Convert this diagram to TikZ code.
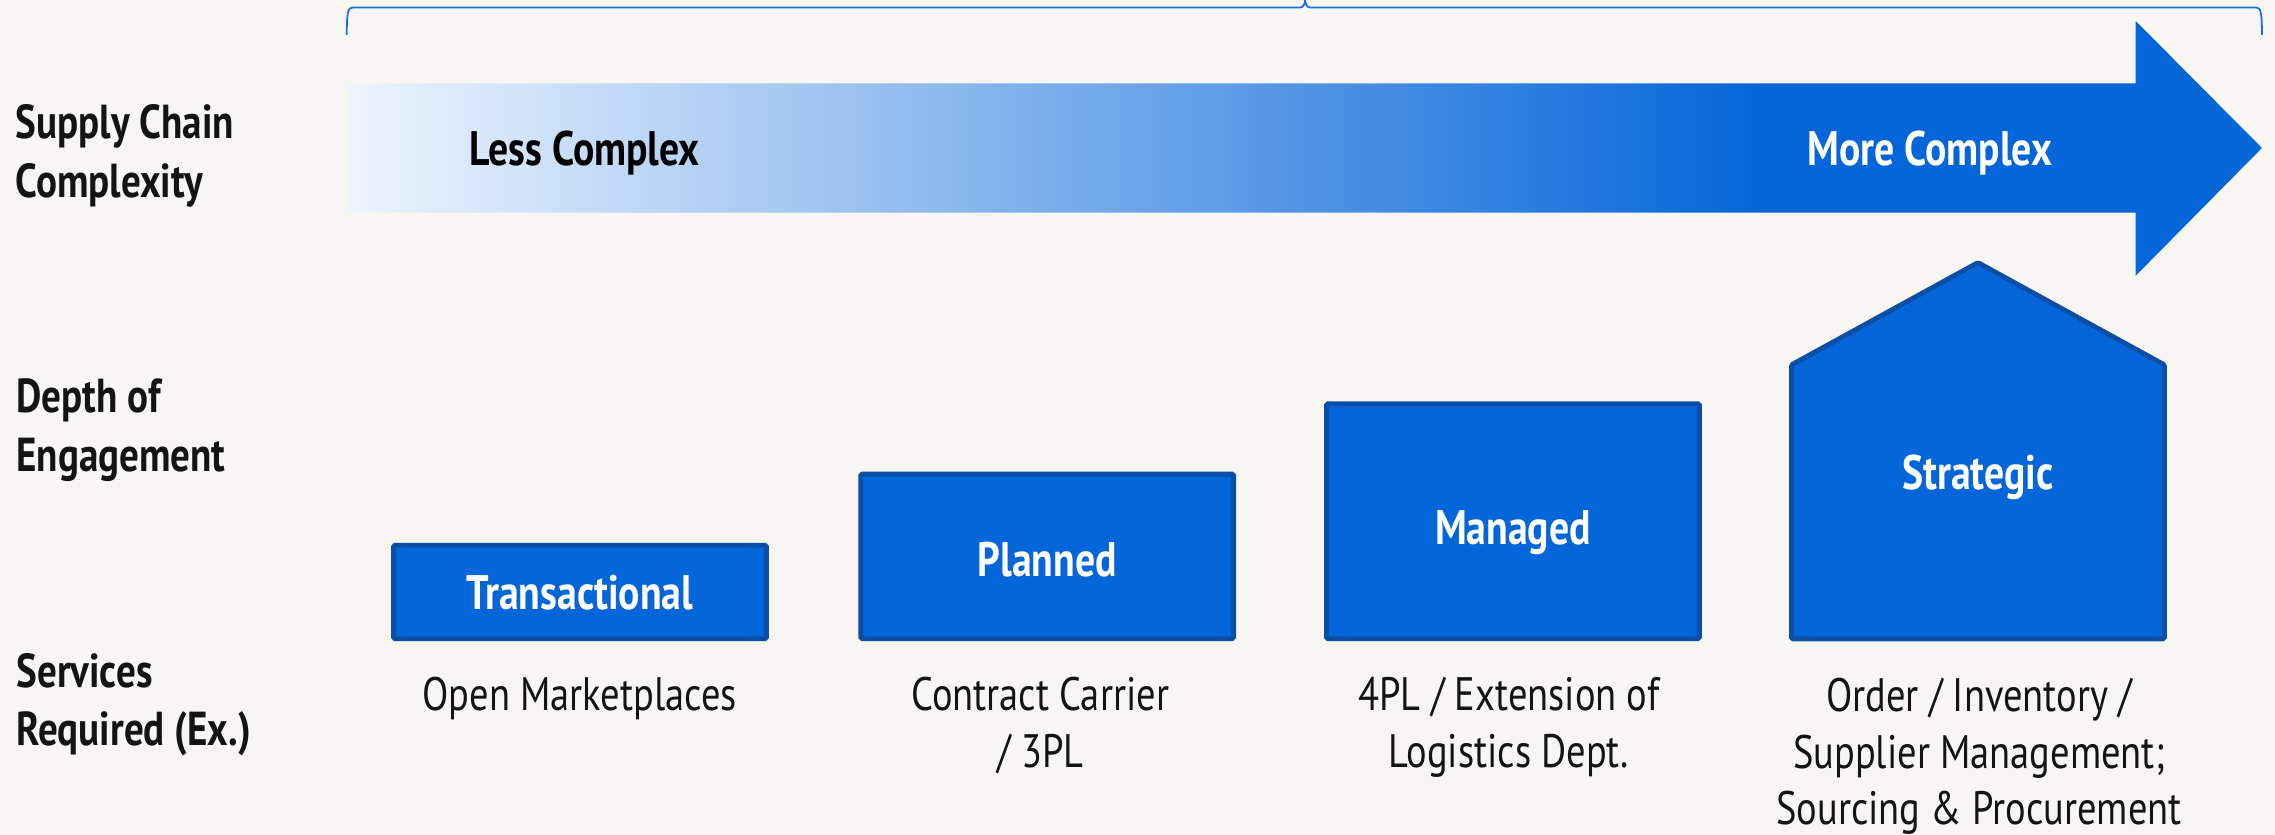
\documentclass[tikz,border=0pt]{standalone}
\usepackage{fontspec}
\setmainfont[FakeStretch=0.82]{PT Sans}

\definecolor{bgc}{HTML}{F7F6F2}
\definecolor{fillblue}{HTML}{0566D9}
\definecolor{edgeblue}{HTML}{0A4EA6}
\definecolor{paleblue}{HTML}{EEF5FD}
\definecolor{braceblue}{HTML}{1F6FD6}
\definecolor{inkc}{HTML}{141414}

% pale on the left, full blue from about three quarters of the way on
\pgfdeclarehorizontalshading{complexity}{100bp}{color(0bp)=(paleblue); color(25bp)=(paleblue);
  color(61.9bp)=(fillblue); color(100bp)=(fillblue)}

\begin{document}
\begin{tikzpicture}[x=0.02cm, y=-0.02cm,
  stage/.style={draw=edgeblue, fill=fillblue, line width=1.9pt, rounded corners=0.6pt,
    minimum width=5.14cm, inner sep=0pt},
  stagename/.style={anchor=base, inner sep=0pt, text=white,
    font=\bfseries\fontsize{19}{23}\selectfont},
  rowhead/.style={anchor=base west, align=left, inner sep=0pt, text=inkc,
    font=\bfseries\fontsize{18.7}{23}\selectfont},
  service/.style={anchor=base, align=center, inner sep=0pt, text=inkc,
    font=\fontsize{18.4}{22.2}\selectfont},
  ends/.style={anchor=base, inner sep=0pt, font=\bfseries\fontsize{19}{23}\selectfont}]

  \fill[bgc] (0,0) rectangle (1568,575.5);
  \useasboundingbox (0,0) rectangle (1568,575.5);

  % brace over the arrow
  \draw[braceblue, line width=0.7pt]
    (239,24) .. controls (239,8) and (240,5.2) .. (243,5.2) -- (896,5.2)
    .. controls (898.5,5.2) and (899.5,2) .. (899.5,0)
    .. controls (899.5,2) and (900.5,5.2) .. (903,5.2) -- (1555,5.2)
    .. controls (1558,5.2) and (1559,8) .. (1559,24);

  % complexity arrow
  \shade[shading=complexity] (239,57.5) -- (1472,57.5) -- (1472,14.5) -- (1559,102)
    -- (1472,190) -- (1472,146.5) -- (239,146.5) -- cycle;
  \node[ends, text=black] (less) at (403,114) {Less Complex};
  \node[ends, text=white] (more) at (1330,114) {More Complex};

  % row headings (base = last line)
  \node[rowhead] (hcplx)  at (10.5,136) {Supply Chain\\Complexity};
  \node[rowhead] (hdepth) at (11,325)   {Depth of\\Engagement};
  \node[rowhead] (hsvc)   at (11,514)   {Services\\Required (Ex.)};

  % engagement levels
  \node[stage, minimum height=1.29cm] (trans) at (399.75,408)   {};
  \node[stage, minimum height=2.27cm] (plan)  at (721.75,383.5) {};
  \node[stage, minimum height=3.24cm] (mgd)   at (1042.75,359.25) {};
  \draw[draw=edgeblue, fill=fillblue, line width=1.9pt, rounded corners=0.6pt]
    (1234.7,251.5) -- (1363.25,181) -- (1491.8,251.5) -- (1491.8,440.3)
    -- (1234.7,440.3) -- cycle;
  \node[stagename] (transname) at (399.75,420.4) {Transactional};
  \node[stagename] (planname)  at (721.75,397)   {Planned};
  \node[stagename] (mgdname)   at (1042.75,375.6) {Managed};
  \node[stagename] (stratname) at (1363.25,337.7) {Strategic};

  % services
  \node[service] (svtrans) at (399.5,490) {Open Marketplaces};
  \node[service] (svplan)  at (717,529)   {Contract Carrier\\/ 3PL};
  \node[service] (svmgd)   at (1040,529)  {4PL / Extension of\\Logistics Dept.};
  \node[service] (svstrat) at (1364,568.6) {Order / Inventory /\\Supplier Management;\\Sourcing \& Procurement};
\end{tikzpicture}
\end{document}
